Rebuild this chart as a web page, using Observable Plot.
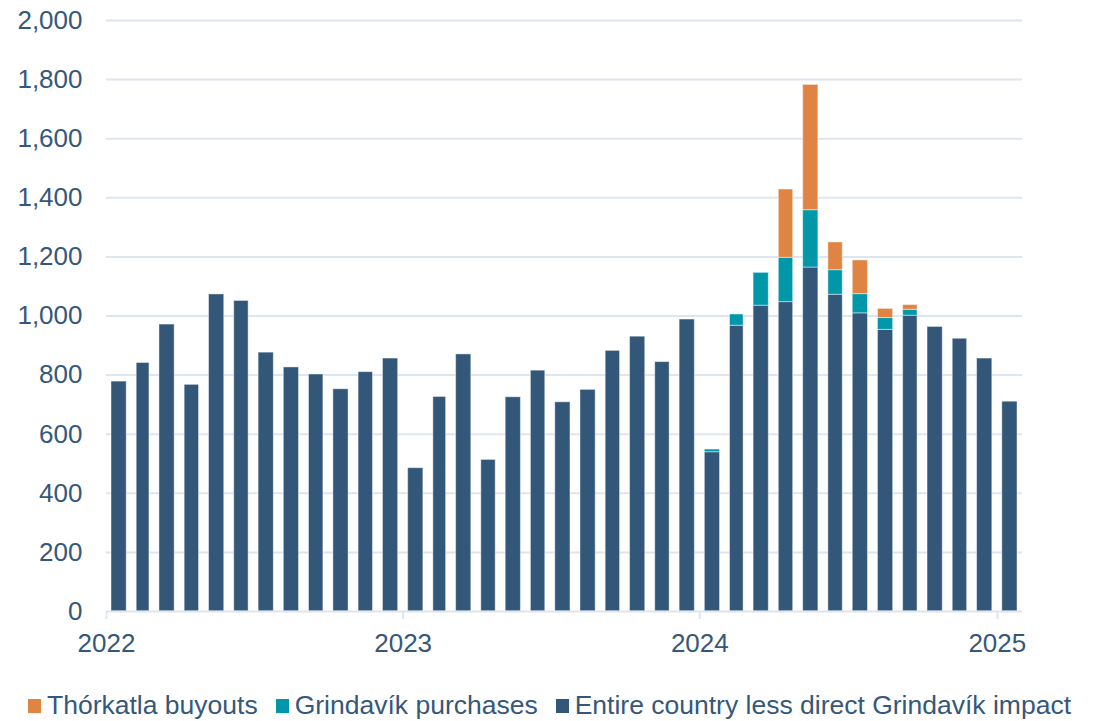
<!DOCTYPE html>
<html><head><meta charset="utf-8">
<script src="https://cdn.jsdelivr.net/npm/d3@7"></script>
<script src="https://cdn.jsdelivr.net/npm/@observablehq/plot@0.6"></script>
<style>
body{margin:0;background:#fff;font-family:"Liberation Sans",Arial,sans-serif;}
#chart{position:absolute;left:0;top:0;}
#legend{position:absolute;top:690px;left:0;width:1099px;display:flex;justify-content:center;align-items:center;font-size:26.5px;line-height:30px;color:#35587a;white-space:nowrap;}
.item{display:flex;align-items:center;margin:0 9px;}
.sw{width:13px;height:14px;margin-right:6px;margin-top:2px;}
</style></head><body><div id="chart"></div><div id="legend"></div>
<script>
const months = ["2022-01","2022-02","2022-03","2022-04","2022-05","2022-06","2022-07","2022-08","2022-09","2022-10","2022-11","2022-12",
"2023-01","2023-02","2023-03","2023-04","2023-05","2023-06","2023-07","2023-08","2023-09","2023-10","2023-11","2023-12",
"2024-01","2024-02","2024-03","2024-04","2024-05","2024-06","2024-07","2024-08","2024-09","2024-10","2024-11","2024-12","2025-01"];
const entireCountry = [778,841,971,767,1073,1051,876,826,802,752,810,856,
485,726,870,513,725,815,708,750,882,930,844,988,
539,967,1035,1047,1164,1072,1009,953,1001,963,923,856,710];
const grindavikPurchases = [0,0,0,0,0,0,0,0,0,0,0,0,
0,0,0,0,0,0,0,0,0,0,0,0,
9,38,111,150,194,83,65,40,20,0,0,0,0];
const thorkatlaBuyouts = [0,0,0,0,0,0,0,0,0,0,0,0,
0,0,0,0,0,0,0,0,0,0,0,0,
0,0,0,231,424,94,114,31,16,0,0,0,0];
const seriesNames = ["Thórkatla buyouts","Grindavík purchases","Entire country less direct Grindavík impact"];
const seriesColors = ["#e08443","#0097a9","#325778"];
const stackOrder = ["Entire country less direct Grindavík impact","Grindavík purchases","Thórkatla buyouts"];
const yTicks = [0,200,400,600,800,1000,1200,1400,1600,1800,2000];
const yearTicks = ["2022-01-01","2023-01-01","2024-01-01","2025-01-01"];
const xDomain = ["2022-01-01","2025-02-01"];

const seriesValues = {
  "Entire country less direct Grindavík impact": entireCountry,
  "Grindavík purchases": grindavikPurchases,
  "Thórkatla buyouts": thorkatlaBuyouts
};
const rows = [];
months.forEach((m, i) => {
  const date = new Date(m + "-01T00:00:00Z");
  const end = d3.utcMonth.offset(date, 1);
  for (const s of stackOrder) {
    rows.push({date, end, series: s, value: seriesValues[s][i]});
  }
});

const textColor = "#35587a";
const gridColor = "#dde6f0";

const chart = Plot.plot({
  width: 1099,
  height: 672,
  marginLeft: 106,
  marginRight: 77,
  marginTop: 20,
  marginBottom: 61,
  style: {fontFamily: '"Liberation Sans", Arial, sans-serif', fontSize: "26px", color: textColor, background: "#fff"},
  x: {type: "utc", domain: xDomain.map(d => new Date(d + "T00:00:00Z")), label: null},
  y: {domain: [0, 2000], label: null},
  color: {domain: seriesNames, range: seriesColors},
  marks: [
    Plot.gridY(yTicks.filter(d => d > 0), {stroke: gridColor, strokeOpacity: 1, strokeWidth: 2}),
    Plot.rectY(rows, Plot.stackY({
      x1: "date", x2: "end", y: "value", fill: "series", order: stackOrder,
      insetLeft: 5, insetRight: 5, stroke: "#ffffff", strokeOpacity: 0.45, strokeWidth: 1
    })),
    Plot.ruleY([0], {stroke: gridColor, strokeWidth: 2}),
    Plot.axisY({ticks: yTicks, tickSize: 0, tickPadding: 24, tickFormat: d3.format(","), fill: textColor, fontSize: 26, label: null}),
    Plot.axisX({ticks: yearTicks.map(d => new Date(d + "T00:00:00Z")), tickSize: 8, tickPadding: 14, tickFormat: d3.utcFormat("%Y"), stroke: gridColor, strokeWidth: 2, fill: textColor, fontSize: 26, label: null})
  ]
});
document.getElementById("chart").appendChild(chart);

const legend = document.getElementById("legend");
seriesNames.forEach((name, i) => {
  const item = document.createElement("div");
  item.className = "item";
  const sw = document.createElement("div");
  sw.className = "sw";
  sw.style.background = seriesColors[i];
  const t = document.createElement("span");
  t.textContent = name;
  item.appendChild(sw);
  item.appendChild(t);
  legend.appendChild(item);
});
</script>
</body></html>
